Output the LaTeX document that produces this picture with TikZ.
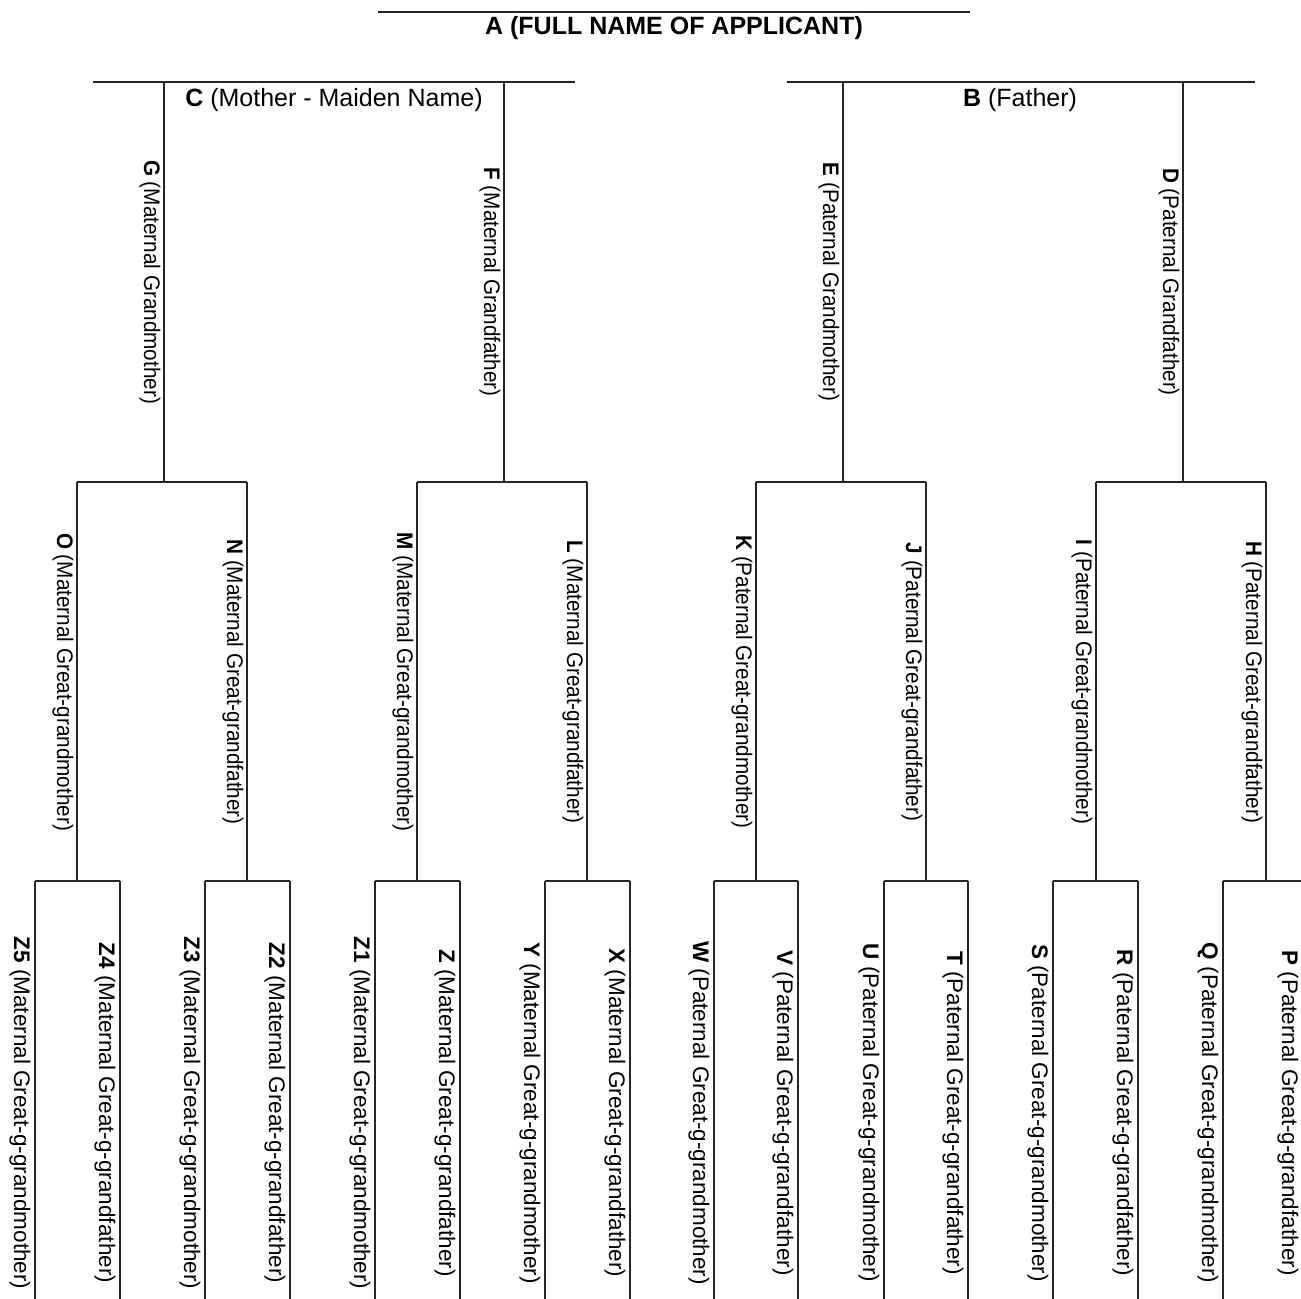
\documentclass[tikz,border=0pt]{standalone}
\usepackage{fontspec}
\setmainfont{Liberation Sans}
\newfontfamily\narrowsf[FakeStretch=0.92]{Liberation Sans}
\begin{document}
\begin{tikzpicture}[x=0.4pt,y=-0.4pt,
	treeline/.style={line width=0.5pt, color=black!85},
	toplab/.style={anchor=base, inner sep=0pt, font=\fontsize{10}{12}\selectfont},
	vlab/.style={rotate=-90, anchor=north, inner sep=0pt, font=\narrowsf\fontsize{9}{11}\selectfont},
	leaflab/.style={vlab, font=\fontsize{9}{11}\selectfont}]
	\useasboundingbox (0,0) rectangle (1301,1299);
	% applicant
	\coordinate (a-w) at (378,12);
	\coordinate (a-e) at (970,12);
	\node[toplab] (a) at (674,35) {\textbf{A (FULL NAME OF APPLICANT)}};
	% parents
	\coordinate (c-w) at (93,82);
	\coordinate (c-e) at (575,82);
	\coordinate (b-w) at (787,82);
	\coordinate (b-e) at (1255,82);
	\node[toplab] (c) at (334,107) {\textbf{C} (Mother - Maiden Name)};
	\node[toplab] (b) at (1020,107) {\textbf{B} (Father)};
	% grandparents
	\coordinate (g-t) at (164,82);  \coordinate (g-b) at (164,482);
	\coordinate (f-t) at (504,82);  \coordinate (f-b) at (504,482);
	\coordinate (e-t) at (843,82);  \coordinate (e-b) at (843,482);
	\coordinate (d-t) at (1183,82); \coordinate (d-b) at (1183,482);
	% great-grandparents
	\coordinate (o-t) at (77,482);   \coordinate (o-b) at (77,881);
	\coordinate (n-t) at (247,482);  \coordinate (n-b) at (247,881);
	\coordinate (m-t) at (417,482);  \coordinate (m-b) at (417,881);
	\coordinate (l-t) at (587,482);  \coordinate (l-b) at (587,881);
	\coordinate (k-t) at (756,482);  \coordinate (k-b) at (756,881);
	\coordinate (j-t) at (926,482);  \coordinate (j-b) at (926,881);
	\coordinate (i-t) at (1096,482); \coordinate (i-b) at (1096,881);
	\coordinate (h-t) at (1266,482); \coordinate (h-b) at (1266,881);
	% great-great-grandparents
	\coordinate (z5-t) at (35,881);  \coordinate (z5-b) at (35,1310);
	\coordinate (z4-t) at (120,881); \coordinate (z4-b) at (120,1310);
	\coordinate (z3-t) at (205,881); \coordinate (z3-b) at (205,1310);
	\coordinate (z2-t) at (290,881); \coordinate (z2-b) at (290,1310);
	\coordinate (z1-t) at (375,881); \coordinate (z1-b) at (375,1310);
	\coordinate (z-t) at (460,881);  \coordinate (z-b) at (460,1310);
	\coordinate (y-t) at (545,881);  \coordinate (y-b) at (545,1310);
	\coordinate (x-t) at (630,881);  \coordinate (x-b) at (630,1310);
	\coordinate (w-t) at (714,881);  \coordinate (w-b) at (714,1310);
	\coordinate (v-t) at (798,881);  \coordinate (v-b) at (798,1310);
	\coordinate (u-t) at (884,881);  \coordinate (u-b) at (884,1310);
	\coordinate (t-t) at (968,881);  \coordinate (t-b) at (968,1310);
	\coordinate (s-t) at (1053,881); \coordinate (s-b) at (1053,1310);
	\coordinate (r-t) at (1138,881); \coordinate (r-b) at (1138,1310);
	\coordinate (q-t) at (1223,881); \coordinate (q-b) at (1223,1310);
	\coordinate (p-t) at (1304,881); \coordinate (p-b) at (1304,1310);

	\draw[treeline] (a-w) -- (a-e);
	\draw[treeline] (c-w) -- (c-e);
	\draw[treeline] (b-w) -- (b-e);

	\draw[treeline] (g-t) -- (g-b);
	\draw[treeline] (f-t) -- (f-b);
	\draw[treeline] (e-t) -- (e-b);
	\draw[treeline] (d-t) -- (d-b);
	\node[vlab] (g) at (161,282) {\textbf{G} (Maternal Grandmother)};
	\node[vlab] (f) at (501,282) {\textbf{F} (Maternal Grandfather)};
	\node[vlab] (e) at (840,282) {\textbf{E} (Paternal Grandmother)};
	\node[vlab] (d) at (1180,282) {\textbf{D} (Paternal Grandfather)};

	\draw[treeline] (o-t) -- (n-t);
	\draw[treeline] (m-t) -- (l-t);
	\draw[treeline] (k-t) -- (j-t);
	\draw[treeline] (i-t) -- (h-t);
	\draw[treeline] (o-t) -- (o-b);
	\draw[treeline] (n-t) -- (n-b);
	\draw[treeline] (m-t) -- (m-b);
	\draw[treeline] (l-t) -- (l-b);
	\draw[treeline] (k-t) -- (k-b);
	\draw[treeline] (j-t) -- (j-b);
	\draw[treeline] (i-t) -- (i-b);
	\draw[treeline] (h-t) -- (h-b);
	\node[vlab] (o) at (74,682) {\textbf{O} (Maternal Great-grandmother)};
	\node[vlab] (n) at (244,682) {\textbf{N} (Maternal Great-grandfather)};
	\node[vlab] (m) at (414,682) {\textbf{M} (Maternal Great-grandmother)};
	\node[vlab] (l) at (584,682) {\textbf{L} (Maternal Great-grandfather)};
	\node[vlab] (k) at (753,682) {\textbf{K} (Paternal Great-grandmother)};
	\node[vlab] (j) at (923,682) {\textbf{J} (Paternal Great-grandfather)};
	\node[vlab] (i) at (1093,682) {\textbf{I} (Paternal Great-grandmother)};
	\node[vlab] (h) at (1263,682) {\textbf{H} (Paternal Great-grandfather)};

	\draw[treeline] (z5-t) -- (z4-t);
	\draw[treeline] (z3-t) -- (z2-t);
	\draw[treeline] (z1-t) -- (z-t);
	\draw[treeline] (y-t) -- (x-t);
	\draw[treeline] (w-t) -- (v-t);
	\draw[treeline] (u-t) -- (t-t);
	\draw[treeline] (s-t) -- (r-t);
	\draw[treeline] (q-t) -- (p-t);
	\draw[treeline] (z5-t) -- (z5-b);
	\draw[treeline] (z4-t) -- (z4-b);
	\draw[treeline] (z3-t) -- (z3-b);
	\draw[treeline] (z2-t) -- (z2-b);
	\draw[treeline] (z1-t) -- (z1-b);
	\draw[treeline] (z-t) -- (z-b);
	\draw[treeline] (y-t) -- (y-b);
	\draw[treeline] (x-t) -- (x-b);
	\draw[treeline] (w-t) -- (w-b);
	\draw[treeline] (v-t) -- (v-b);
	\draw[treeline] (u-t) -- (u-b);
	\draw[treeline] (t-t) -- (t-b);
	\draw[treeline] (s-t) -- (s-b);
	\draw[treeline] (r-t) -- (r-b);
	\draw[treeline] (q-t) -- (q-b);
	\draw[treeline] (p-t) -- (p-b);
	\node[leaflab] (z5) at (31,1113) {\textbf{Z5} (Maternal Great-g-grandmother)};
	\node[leaflab] (z4) at (116,1113) {\textbf{Z4} (Maternal Great-g-grandfather)};
	\node[leaflab] (z3) at (201,1113) {\textbf{Z3} (Maternal Great-g-grandmother)};
	\node[leaflab] (z2) at (286,1113) {\textbf{Z2} (Maternal Great-g-grandfather)};
	\node[leaflab] (z1) at (371,1113) {\textbf{Z1} (Maternal Great-g-grandmother)};
	\node[leaflab] (z) at (456,1113) {\textbf{Z} (Maternal Great-g-grandfather)};
	\node[leaflab] (y) at (541,1113) {\textbf{Y} (Maternal Great-g-grandmother)};
	\node[leaflab] (x) at (626,1113) {\textbf{X} (Maternal Great-g-grandfather)};
	\node[leaflab] (w) at (710,1113) {\textbf{W} (Paternal Great-g-grandmother)};
	\node[leaflab] (v) at (794,1113) {\textbf{V} (Paternal Great-g-grandfather)};
	\node[leaflab] (u) at (880,1113) {\textbf{U} (Paternal Great-g-grandmother)};
	\node[leaflab] (t) at (964,1113) {\textbf{T} (Paternal Great-g-grandfather)};
	\node[leaflab] (s) at (1049,1113) {\textbf{S} (Paternal Great-g-grandmother)};
	\node[leaflab] (r) at (1134,1113) {\textbf{R} (Paternal Great-g-grandfather)};
	\node[leaflab] (q) at (1219,1113) {\textbf{Q} (Paternal Great-g-grandmother)};
	\node[leaflab] (p) at (1299,1113) {\textbf{P} (Paternal Great-g-grandfather)};
\end{tikzpicture}
\end{document}
